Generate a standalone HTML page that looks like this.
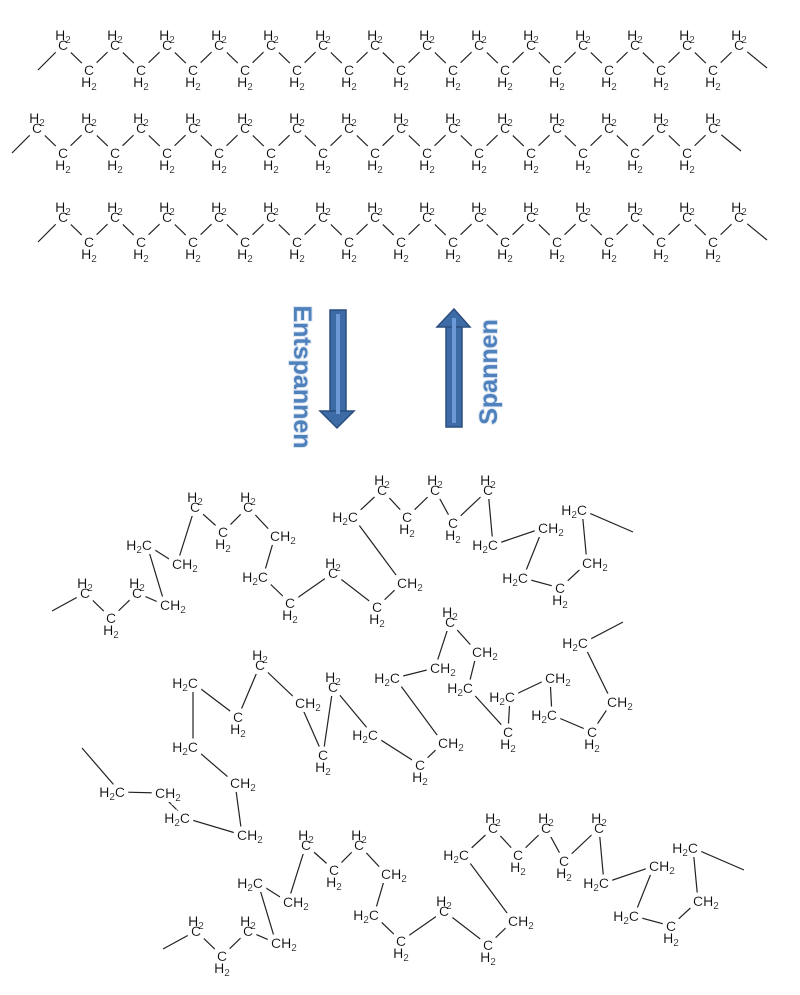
<!DOCTYPE html>
<html><head><meta charset="utf-8"><style>
html,body{margin:0;padding:0;background:#fff}
svg{display:block}
text{font-family:"Liberation Sans",sans-serif;font-size:14px;text-anchor:middle;fill:#111}
tspan.s{font-size:10px}
text.r{text-anchor:start}
text.l{text-anchor:end}
polyline{fill:none;stroke:#222;stroke-width:1.2}
text.lab{font-size:25px;font-weight:bold;fill:#4f81bd;stroke:#dce6f2;stroke-width:2px;paint-order:stroke}
</style></head><body>
<svg width="800" height="995" viewBox="0 0 800 995" xmlns="http://www.w3.org/2000/svg">
<defs>
<filter id="bg" x="-10%" y="-10%" width="120%" height="120%">
<feMorphology in="SourceAlpha" operator="dilate" radius="4" result="d"/>
<feFlood flood-color="#ffffff"/>
<feComposite in2="d" operator="in" result="w"/>
<feMerge><feMergeNode in="w"/><feMergeNode in="SourceGraphic"/></feMerge>
</filter>
</defs>
<!-- Row 1 -->
<g>
<polyline points="38,70 63,45 89,70 115,45 141,70 167,45 193,70 219,45 245,70 271,45 297,70 323,45 349,70 375,45 401,70 427,45 453,70 479,45 505,70 531,45 557,70 583,45 609,70 635,45 661,70 687,45 713,70 739,45 767,68"/>
<g filter="url(#bg)">
<text x="63" y="40">H<tspan class="s" dy="3">2</tspan></text><text x="63" y="50">C</text>
<text x="115" y="40">H<tspan class="s" dy="3">2</tspan></text><text x="115" y="50">C</text>
<text x="167" y="40">H<tspan class="s" dy="3">2</tspan></text><text x="167" y="50">C</text>
<text x="219" y="40">H<tspan class="s" dy="3">2</tspan></text><text x="219" y="50">C</text>
<text x="271" y="40">H<tspan class="s" dy="3">2</tspan></text><text x="271" y="50">C</text>
<text x="323" y="40">H<tspan class="s" dy="3">2</tspan></text><text x="323" y="50">C</text>
<text x="375" y="40">H<tspan class="s" dy="3">2</tspan></text><text x="375" y="50">C</text>
<text x="427" y="40">H<tspan class="s" dy="3">2</tspan></text><text x="427" y="50">C</text>
<text x="479" y="40">H<tspan class="s" dy="3">2</tspan></text><text x="479" y="50">C</text>
<text x="531" y="40">H<tspan class="s" dy="3">2</tspan></text><text x="531" y="50">C</text>
<text x="583" y="40">H<tspan class="s" dy="3">2</tspan></text><text x="583" y="50">C</text>
<text x="635" y="40">H<tspan class="s" dy="3">2</tspan></text><text x="635" y="50">C</text>
<text x="687" y="40">H<tspan class="s" dy="3">2</tspan></text><text x="687" y="50">C</text>
<text x="739" y="40">H<tspan class="s" dy="3">2</tspan></text><text x="739" y="50">C</text>
<text x="89" y="75">C</text><text x="89" y="87">H<tspan class="s" dy="3">2</tspan></text>
<text x="141" y="75">C</text><text x="141" y="87">H<tspan class="s" dy="3">2</tspan></text>
<text x="193" y="75">C</text><text x="193" y="87">H<tspan class="s" dy="3">2</tspan></text>
<text x="245" y="75">C</text><text x="245" y="87">H<tspan class="s" dy="3">2</tspan></text>
<text x="297" y="75">C</text><text x="297" y="87">H<tspan class="s" dy="3">2</tspan></text>
<text x="349" y="75">C</text><text x="349" y="87">H<tspan class="s" dy="3">2</tspan></text>
<text x="401" y="75">C</text><text x="401" y="87">H<tspan class="s" dy="3">2</tspan></text>
<text x="453" y="75">C</text><text x="453" y="87">H<tspan class="s" dy="3">2</tspan></text>
<text x="505" y="75">C</text><text x="505" y="87">H<tspan class="s" dy="3">2</tspan></text>
<text x="557" y="75">C</text><text x="557" y="87">H<tspan class="s" dy="3">2</tspan></text>
<text x="609" y="75">C</text><text x="609" y="87">H<tspan class="s" dy="3">2</tspan></text>
<text x="661" y="75">C</text><text x="661" y="87">H<tspan class="s" dy="3">2</tspan></text>
<text x="713" y="75">C</text><text x="713" y="87">H<tspan class="s" dy="3">2</tspan></text>
</g></g>
<!-- Row 2 -->
<g transform="translate(-26,83)">
<polyline points="38,70 63,45 89,70 115,45 141,70 167,45 193,70 219,45 245,70 271,45 297,70 323,45 349,70 375,45 401,70 427,45 453,70 479,45 505,70 531,45 557,70 583,45 609,70 635,45 661,70 687,45 713,70 739,45 767,68"/>
<g filter="url(#bg)">
<text x="63" y="40">H<tspan class="s" dy="3">2</tspan></text><text x="63" y="50">C</text>
<text x="115" y="40">H<tspan class="s" dy="3">2</tspan></text><text x="115" y="50">C</text>
<text x="167" y="40">H<tspan class="s" dy="3">2</tspan></text><text x="167" y="50">C</text>
<text x="219" y="40">H<tspan class="s" dy="3">2</tspan></text><text x="219" y="50">C</text>
<text x="271" y="40">H<tspan class="s" dy="3">2</tspan></text><text x="271" y="50">C</text>
<text x="323" y="40">H<tspan class="s" dy="3">2</tspan></text><text x="323" y="50">C</text>
<text x="375" y="40">H<tspan class="s" dy="3">2</tspan></text><text x="375" y="50">C</text>
<text x="427" y="40">H<tspan class="s" dy="3">2</tspan></text><text x="427" y="50">C</text>
<text x="479" y="40">H<tspan class="s" dy="3">2</tspan></text><text x="479" y="50">C</text>
<text x="531" y="40">H<tspan class="s" dy="3">2</tspan></text><text x="531" y="50">C</text>
<text x="583" y="40">H<tspan class="s" dy="3">2</tspan></text><text x="583" y="50">C</text>
<text x="635" y="40">H<tspan class="s" dy="3">2</tspan></text><text x="635" y="50">C</text>
<text x="687" y="40">H<tspan class="s" dy="3">2</tspan></text><text x="687" y="50">C</text>
<text x="739" y="40">H<tspan class="s" dy="3">2</tspan></text><text x="739" y="50">C</text>
<text x="89" y="75">C</text><text x="89" y="87">H<tspan class="s" dy="3">2</tspan></text>
<text x="141" y="75">C</text><text x="141" y="87">H<tspan class="s" dy="3">2</tspan></text>
<text x="193" y="75">C</text><text x="193" y="87">H<tspan class="s" dy="3">2</tspan></text>
<text x="245" y="75">C</text><text x="245" y="87">H<tspan class="s" dy="3">2</tspan></text>
<text x="297" y="75">C</text><text x="297" y="87">H<tspan class="s" dy="3">2</tspan></text>
<text x="349" y="75">C</text><text x="349" y="87">H<tspan class="s" dy="3">2</tspan></text>
<text x="401" y="75">C</text><text x="401" y="87">H<tspan class="s" dy="3">2</tspan></text>
<text x="453" y="75">C</text><text x="453" y="87">H<tspan class="s" dy="3">2</tspan></text>
<text x="505" y="75">C</text><text x="505" y="87">H<tspan class="s" dy="3">2</tspan></text>
<text x="557" y="75">C</text><text x="557" y="87">H<tspan class="s" dy="3">2</tspan></text>
<text x="609" y="75">C</text><text x="609" y="87">H<tspan class="s" dy="3">2</tspan></text>
<text x="661" y="75">C</text><text x="661" y="87">H<tspan class="s" dy="3">2</tspan></text>
<text x="713" y="75">C</text><text x="713" y="87">H<tspan class="s" dy="3">2</tspan></text>
</g></g>
<!-- Row 3 -->
<g transform="translate(0,172)">
<polyline points="38,70 63,45 89,70 115,45 141,70 167,45 193,70 219,45 245,70 271,45 297,70 323,45 349,70 375,45 401,70 427,45 453,70 479,45 505,70 531,45 557,70 583,45 609,70 635,45 661,70 687,45 713,70 739,45 767,68"/>
<g filter="url(#bg)">
<text x="63" y="40">H<tspan class="s" dy="3">2</tspan></text><text x="63" y="50">C</text>
<text x="115" y="40">H<tspan class="s" dy="3">2</tspan></text><text x="115" y="50">C</text>
<text x="167" y="40">H<tspan class="s" dy="3">2</tspan></text><text x="167" y="50">C</text>
<text x="219" y="40">H<tspan class="s" dy="3">2</tspan></text><text x="219" y="50">C</text>
<text x="271" y="40">H<tspan class="s" dy="3">2</tspan></text><text x="271" y="50">C</text>
<text x="323" y="40">H<tspan class="s" dy="3">2</tspan></text><text x="323" y="50">C</text>
<text x="375" y="40">H<tspan class="s" dy="3">2</tspan></text><text x="375" y="50">C</text>
<text x="427" y="40">H<tspan class="s" dy="3">2</tspan></text><text x="427" y="50">C</text>
<text x="479" y="40">H<tspan class="s" dy="3">2</tspan></text><text x="479" y="50">C</text>
<text x="531" y="40">H<tspan class="s" dy="3">2</tspan></text><text x="531" y="50">C</text>
<text x="583" y="40">H<tspan class="s" dy="3">2</tspan></text><text x="583" y="50">C</text>
<text x="635" y="40">H<tspan class="s" dy="3">2</tspan></text><text x="635" y="50">C</text>
<text x="687" y="40">H<tspan class="s" dy="3">2</tspan></text><text x="687" y="50">C</text>
<text x="739" y="40">H<tspan class="s" dy="3">2</tspan></text><text x="739" y="50">C</text>
<text x="89" y="75">C</text><text x="89" y="87">H<tspan class="s" dy="3">2</tspan></text>
<text x="141" y="75">C</text><text x="141" y="87">H<tspan class="s" dy="3">2</tspan></text>
<text x="193" y="75">C</text><text x="193" y="87">H<tspan class="s" dy="3">2</tspan></text>
<text x="245" y="75">C</text><text x="245" y="87">H<tspan class="s" dy="3">2</tspan></text>
<text x="297" y="75">C</text><text x="297" y="87">H<tspan class="s" dy="3">2</tspan></text>
<text x="349" y="75">C</text><text x="349" y="87">H<tspan class="s" dy="3">2</tspan></text>
<text x="401" y="75">C</text><text x="401" y="87">H<tspan class="s" dy="3">2</tspan></text>
<text x="453" y="75">C</text><text x="453" y="87">H<tspan class="s" dy="3">2</tspan></text>
<text x="505" y="75">C</text><text x="505" y="87">H<tspan class="s" dy="3">2</tspan></text>
<text x="557" y="75">C</text><text x="557" y="87">H<tspan class="s" dy="3">2</tspan></text>
<text x="609" y="75">C</text><text x="609" y="87">H<tspan class="s" dy="3">2</tspan></text>
<text x="661" y="75">C</text><text x="661" y="87">H<tspan class="s" dy="3">2</tspan></text>
<text x="713" y="75">C</text><text x="713" y="87">H<tspan class="s" dy="3">2</tspan></text>
</g></g>

<!-- Arrows -->
<g>
<rect x="330" y="310" width="16" height="102" fill="#3d6ba6" stroke="#2b4e7e" stroke-width="1.5"/>
<polygon points="320,411 354,411 337,428" fill="#3d6ba6" stroke="#2b4e7e" stroke-width="1.5"/>
<line x1="338" y1="314" x2="338" y2="414" stroke="#6b9ad6" stroke-width="4"/>
<rect x="446" y="326" width="16" height="101" fill="#3d6ba6" stroke="#2b4e7e" stroke-width="1.5"/>
<polygon points="437,327 470,327 454,309" fill="#3d6ba6" stroke="#2b4e7e" stroke-width="1.5"/>
<line x1="454" y1="318" x2="454" y2="423" stroke="#6b9ad6" stroke-width="4"/>
<text class="lab" transform="translate(294,377) rotate(90)" x="0" y="0">Entspannen</text>
<text class="lab" transform="translate(497,372) rotate(-90)" x="0" y="0">Spannen</text>
</g>

<!-- Chain A -->
<g>
<polyline points="52,611 85,593 111,618 137,593 165,605 147,545 177,564 195,507 223,532 248,507 275,536 263,577 290,603 333,573 377,607 402,583 353,517 382,490 407,517 435,490 453,523 488,490 493,545 543,528 523,578 560,588 587,563 582,510 633,532"/>
<g filter="url(#bg)">
<text x="85" y="588">H<tspan class="s" dy="3">2</tspan></text><text x="85" y="598">C</text>
<text x="111" y="623">C</text><text x="111" y="635">H<tspan class="s" dy="3">2</tspan></text>
<text x="137" y="588">H<tspan class="s" dy="3">2</tspan></text><text x="137" y="598">C</text>
<text class="r" x="160" y="610">CH<tspan class="s" dy="3">2</tspan></text>
<text class="l" x="152" y="550">H<tspan class="s" dy="3">2</tspan><tspan dy="-3">C</tspan></text>
<text class="r" x="172" y="569">CH<tspan class="s" dy="3">2</tspan></text>
<text x="195" y="502">H<tspan class="s" dy="3">2</tspan></text><text x="195" y="512">C</text>
<text x="223" y="537">C</text><text x="223" y="549">H<tspan class="s" dy="3">2</tspan></text>
<text x="248" y="502">H<tspan class="s" dy="3">2</tspan></text><text x="248" y="512">C</text>
<text class="r" x="270" y="541">CH<tspan class="s" dy="3">2</tspan></text>
<text class="l" x="268" y="582">H<tspan class="s" dy="3">2</tspan><tspan dy="-3">C</tspan></text>
<text x="290" y="608">C</text><text x="290" y="620">H<tspan class="s" dy="3">2</tspan></text>
<text x="333" y="568">H<tspan class="s" dy="3">2</tspan></text><text x="333" y="578">C</text>
<text x="377" y="612">C</text><text x="377" y="624">H<tspan class="s" dy="3">2</tspan></text>
<text class="r" x="397" y="588">CH<tspan class="s" dy="3">2</tspan></text>
<text class="l" x="358" y="522">H<tspan class="s" dy="3">2</tspan><tspan dy="-3">C</tspan></text>
<text x="382" y="485">H<tspan class="s" dy="3">2</tspan></text><text x="382" y="495">C</text>
<text x="407" y="522">C</text><text x="407" y="534">H<tspan class="s" dy="3">2</tspan></text>
<text x="435" y="485">H<tspan class="s" dy="3">2</tspan></text><text x="435" y="495">C</text>
<text x="453" y="528">C</text><text x="453" y="540">H<tspan class="s" dy="3">2</tspan></text>
<text x="488" y="485">H<tspan class="s" dy="3">2</tspan></text><text x="488" y="495">C</text>
<text class="l" x="498" y="550">H<tspan class="s" dy="3">2</tspan><tspan dy="-3">C</tspan></text>
<text class="r" x="538" y="533">CH<tspan class="s" dy="3">2</tspan></text>
<text class="l" x="528" y="583">H<tspan class="s" dy="3">2</tspan><tspan dy="-3">C</tspan></text>
<text x="560" y="593">C</text><text x="560" y="605">H<tspan class="s" dy="3">2</tspan></text>
<text class="r" x="582" y="568">CH<tspan class="s" dy="3">2</tspan></text>
<text class="l" x="587" y="515">H<tspan class="s" dy="3">2</tspan><tspan dy="-3">C</tspan></text>
</g></g>

<!-- Chain B -->
<g>
<polyline points="82,748 120,792 160,793 185,818 242,835 235,783 193,747 193,683 238,717 260,665 300,703 323,755 333,687 373,735 420,765 443,743 395,678 435,668 450,622 477,652 468,688 508,732 510,697 550,678 552,715 592,732 612,702 583,643 623,622"/>
<g filter="url(#bg)">
<text class="l" x="125" y="797">H<tspan class="s" dy="3">2</tspan><tspan dy="-3">C</tspan></text>
<text class="r" x="155" y="798">CH<tspan class="s" dy="3">2</tspan></text>
<text class="l" x="190" y="823">H<tspan class="s" dy="3">2</tspan><tspan dy="-3">C</tspan></text>
<text class="r" x="237" y="840">CH<tspan class="s" dy="3">2</tspan></text>
<text class="r" x="230" y="788">CH<tspan class="s" dy="3">2</tspan></text>
<text class="l" x="198" y="752">H<tspan class="s" dy="3">2</tspan><tspan dy="-3">C</tspan></text>
<text class="l" x="198" y="688">H<tspan class="s" dy="3">2</tspan><tspan dy="-3">C</tspan></text>
<text x="238" y="722">C</text><text x="238" y="734">H<tspan class="s" dy="3">2</tspan></text>
<text x="260" y="660">H<tspan class="s" dy="3">2</tspan></text><text x="260" y="670">C</text>
<text class="r" x="295" y="708">CH<tspan class="s" dy="3">2</tspan></text>
<text x="323" y="760">C</text><text x="323" y="772">H<tspan class="s" dy="3">2</tspan></text>
<text x="333" y="682">H<tspan class="s" dy="3">2</tspan></text><text x="333" y="692">C</text>
<text class="l" x="378" y="740">H<tspan class="s" dy="3">2</tspan><tspan dy="-3">C</tspan></text>
<text x="420" y="770">C</text><text x="420" y="782">H<tspan class="s" dy="3">2</tspan></text>
<text class="r" x="438" y="748">CH<tspan class="s" dy="3">2</tspan></text>
<text class="l" x="400" y="683">H<tspan class="s" dy="3">2</tspan><tspan dy="-3">C</tspan></text>
<text class="r" x="430" y="673">CH<tspan class="s" dy="3">2</tspan></text>
<text x="450" y="617">H<tspan class="s" dy="3">2</tspan></text><text x="450" y="627">C</text>
<text class="r" x="472" y="657">CH<tspan class="s" dy="3">2</tspan></text>
<text class="l" x="473" y="693">H<tspan class="s" dy="3">2</tspan><tspan dy="-3">C</tspan></text>
<text x="508" y="737">C</text><text x="508" y="749">H<tspan class="s" dy="3">2</tspan></text>
<text class="l" x="515" y="702">H<tspan class="s" dy="3">2</tspan><tspan dy="-3">C</tspan></text>
<text class="r" x="545" y="683">CH<tspan class="s" dy="3">2</tspan></text>
<text class="l" x="557" y="720">H<tspan class="s" dy="3">2</tspan><tspan dy="-3">C</tspan></text>
<text x="592" y="737">C</text><text x="592" y="749">H<tspan class="s" dy="3">2</tspan></text>
<text class="r" x="607" y="707">CH<tspan class="s" dy="3">2</tspan></text>
<text class="l" x="588" y="648">H<tspan class="s" dy="3">2</tspan><tspan dy="-3">C</tspan></text>
</g></g>

<!-- Chain C -->
<g transform="translate(111,338)">
<polyline points="52,611 85,593 111,618 137,593 165,605 147,545 177,564 195,507 223,532 248,507 275,536 263,577 290,603 333,573 377,607 402,583 353,517 382,490 407,517 435,490 453,523 488,490 493,545 543,528 523,578 560,588 587,563 582,510 633,532"/>
<g filter="url(#bg)">
<text x="85" y="588">H<tspan class="s" dy="3">2</tspan></text><text x="85" y="598">C</text>
<text x="111" y="623">C</text><text x="111" y="635">H<tspan class="s" dy="3">2</tspan></text>
<text x="137" y="588">H<tspan class="s" dy="3">2</tspan></text><text x="137" y="598">C</text>
<text class="r" x="160" y="610">CH<tspan class="s" dy="3">2</tspan></text>
<text class="l" x="152" y="550">H<tspan class="s" dy="3">2</tspan><tspan dy="-3">C</tspan></text>
<text class="r" x="172" y="569">CH<tspan class="s" dy="3">2</tspan></text>
<text x="195" y="502">H<tspan class="s" dy="3">2</tspan></text><text x="195" y="512">C</text>
<text x="223" y="537">C</text><text x="223" y="549">H<tspan class="s" dy="3">2</tspan></text>
<text x="248" y="502">H<tspan class="s" dy="3">2</tspan></text><text x="248" y="512">C</text>
<text class="r" x="270" y="541">CH<tspan class="s" dy="3">2</tspan></text>
<text class="l" x="268" y="582">H<tspan class="s" dy="3">2</tspan><tspan dy="-3">C</tspan></text>
<text x="290" y="608">C</text><text x="290" y="620">H<tspan class="s" dy="3">2</tspan></text>
<text x="333" y="568">H<tspan class="s" dy="3">2</tspan></text><text x="333" y="578">C</text>
<text x="377" y="612">C</text><text x="377" y="624">H<tspan class="s" dy="3">2</tspan></text>
<text class="r" x="397" y="588">CH<tspan class="s" dy="3">2</tspan></text>
<text class="l" x="358" y="522">H<tspan class="s" dy="3">2</tspan><tspan dy="-3">C</tspan></text>
<text x="382" y="485">H<tspan class="s" dy="3">2</tspan></text><text x="382" y="495">C</text>
<text x="407" y="522">C</text><text x="407" y="534">H<tspan class="s" dy="3">2</tspan></text>
<text x="435" y="485">H<tspan class="s" dy="3">2</tspan></text><text x="435" y="495">C</text>
<text x="453" y="528">C</text><text x="453" y="540">H<tspan class="s" dy="3">2</tspan></text>
<text x="488" y="485">H<tspan class="s" dy="3">2</tspan></text><text x="488" y="495">C</text>
<text class="l" x="498" y="550">H<tspan class="s" dy="3">2</tspan><tspan dy="-3">C</tspan></text>
<text class="r" x="538" y="533">CH<tspan class="s" dy="3">2</tspan></text>
<text class="l" x="528" y="583">H<tspan class="s" dy="3">2</tspan><tspan dy="-3">C</tspan></text>
<text x="560" y="593">C</text><text x="560" y="605">H<tspan class="s" dy="3">2</tspan></text>
<text class="r" x="582" y="568">CH<tspan class="s" dy="3">2</tspan></text>
<text class="l" x="587" y="515">H<tspan class="s" dy="3">2</tspan><tspan dy="-3">C</tspan></text>
</g></g>
</svg>
</body></html>
